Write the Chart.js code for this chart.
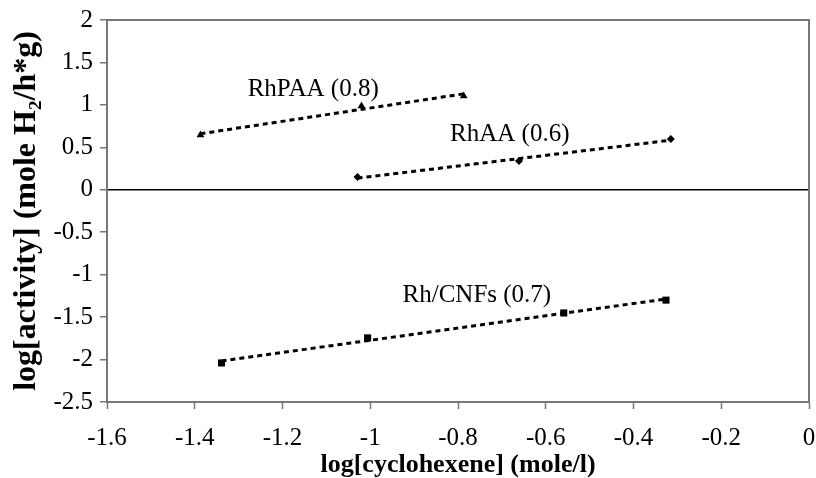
<!DOCTYPE html>
<html>
<head>
    <title>log activity vs log cyclohexene</title>
    <script src="https://cdn.jsdelivr.net/npm/chart.js@4.4.0/dist/chart.umd.min.js"></script>
    <style>
        body { margin: 0; padding: 0; background: #fff; }
        .wrap { width: 816px; height: 478px; }
    </style>
</head>
<body>
<div class="wrap"><canvas id="grafica" width="816" height="478"></canvas></div>
<script>
    // datos
    const xTicks = [-1.6, -1.4, -1.2, -1, -0.8, -0.6, -0.4, -0.2, 0];
    const yTicks = [-2.5, -2, -1.5, -1, -0.5, 0, 0.5, 1, 1.5, 2];

    const rhpaaX = [-1.387, -1.02, -0.787];
    const rhpaaY = [0.645, 0.987, 1.105];
    const rhaaX = [-1.029, -0.661, -0.315];
    const rhaaY = [0.151, 0.339, 0.598];
    const cnfX = [-1.339, -1.006, -0.559, -0.326];
    const cnfY = [-2.04, -1.745, -1.451, -1.30];

    // lineas de tendencia (extremos)
    const rhpaaTrendX = [-1.387, -0.787];
    const rhpaaTrendY = [0.66, 1.13];
    const rhaaTrendX = [-1.029, -0.315];
    const rhaaTrendY = [0.137, 0.584];
    const cnfTrendX = [-1.339, -0.326];
    const cnfTrendY = [-2.017, -1.287];

    // etiquetas de las series
    const etiquetas = ['RhPAA (0.8)', 'RhAA (0.6)', 'Rh/CNFs (0.7)'];
    const etiquetaX = [-1.13, -0.682, -0.757];
    const etiquetaY = [1.18, 0.65, -1.25];

    const pts = (xs, ys) => xs.map((x, i) => ({ x: x, y: ys[i] }));

    const serif = "'Liberation Serif', 'Times New Roman', serif";

    const trend = (xs, ys) => ({
        data: pts(xs, ys),
        showLine: true,
        borderColor: '#000',
        borderWidth: 3,
        borderDash: [5, 4],
        pointRadius: 0,
        fill: false
    });
    const marks = (xs, ys, estilo, r) => ({
        data: pts(xs, ys),
        showLine: false,
        pointStyle: estilo,
        pointRadius: r,
        backgroundColor: '#000',
        borderColor: '#000',
        borderWidth: 0
    });

    // marco gris y etiquetas de texto
    const marco = {
        id: 'marco',
        afterDatasetsDraw(chart) {
            const c = chart.ctx, a = chart.chartArea;
            c.save();
            c.strokeStyle = '#777';
            c.lineWidth = 2;
            c.beginPath();
            c.moveTo(a.left, a.top);
            c.lineTo(a.right, a.top);
            c.lineTo(a.right, a.bottom);
            c.stroke();
            c.fillStyle = '#000';
            c.font = '25px ' + serif;
            c.textAlign = 'center';
            c.textBaseline = 'middle';
            etiquetas.forEach((t, i) => {
                c.fillText(t, chart.scales.x.getPixelForValue(etiquetaX[i]),
                              chart.scales.y.getPixelForValue(etiquetaY[i]));
            });
            c.restore();
        }
    };

    new Chart(document.getElementById('grafica'), {
        type: 'scatter',
        data: {
            datasets: [
                trend(rhpaaTrendX, rhpaaTrendY),
                trend(rhaaTrendX, rhaaTrendY),
                trend(cnfTrendX, cnfTrendY),
                marks(rhpaaX, rhpaaY, 'triangle', 4.5),
                marks(rhaaX, rhaaY, 'rectRot', 4),
                marks(cnfX, cnfY, 'rect', 5)
            ]
        },
        options: {
            responsive: false,
            animation: false,
            layout: { padding: { top: 20, right: 7, left: 0, bottom: 0 } },
            plugins: { legend: { display: false }, tooltip: { enabled: false } },
            scales: {
                x: {
                    type: 'linear',
                    min: -1.6, max: 0,
                    afterBuildTicks: s => { s.ticks = xTicks.map(v => ({ value: v })); },
                    afterFit: s => { s.height = 76; s.paddingLeft = 0; s.paddingRight = 0; },
                    grid: { drawOnChartArea: false, tickLength: 7, tickColor: '#777', tickWidth: 1.5 },
                    border: { color: '#777', width: 2 },
                    ticks: { color: '#000', font: { family: serif, size: 25 }, padding: 14, maxRotation: 0,
                             callback: v => String(v) },
                    title: { display: true, text: 'log[cyclohexene] (mole/l)', color: '#000',
                             font: { family: serif, size: 26, weight: 'bold' }, padding: { top: 0, bottom: -3 } }
                },
                y: {
                    type: 'linear',
                    min: -2.5, max: 2,
                    afterBuildTicks: s => { s.ticks = yTicks.map(v => ({ value: v })); },
                    afterFit: s => { s.width = 107; s.paddingTop = 0; s.paddingBottom = 0; },
                    grid: {
                        color: ctx => (ctx.tick && ctx.tick.value === 0) ? '#000' : 'rgba(0,0,0,0)',
                        lineWidth: 1.5,
                        tickLength: 7, tickColor: '#777', tickWidth: 1.5
                    },
                    border: { color: '#777', width: 2 },
                    ticks: { color: '#000', font: { family: serif, size: 25 }, padding: 7,
                             callback: v => String(v) },
                    title: { display: true, text: 'log[activity] (mole H\u2082/h*g)', color: '#000',
                             font: { family: serif, size: 32, weight: 'bold' }, padding: { top: 8, bottom: 0 } }
                }
            }
        },
        plugins: [marco]
    });
</script>
</body>
</html>
